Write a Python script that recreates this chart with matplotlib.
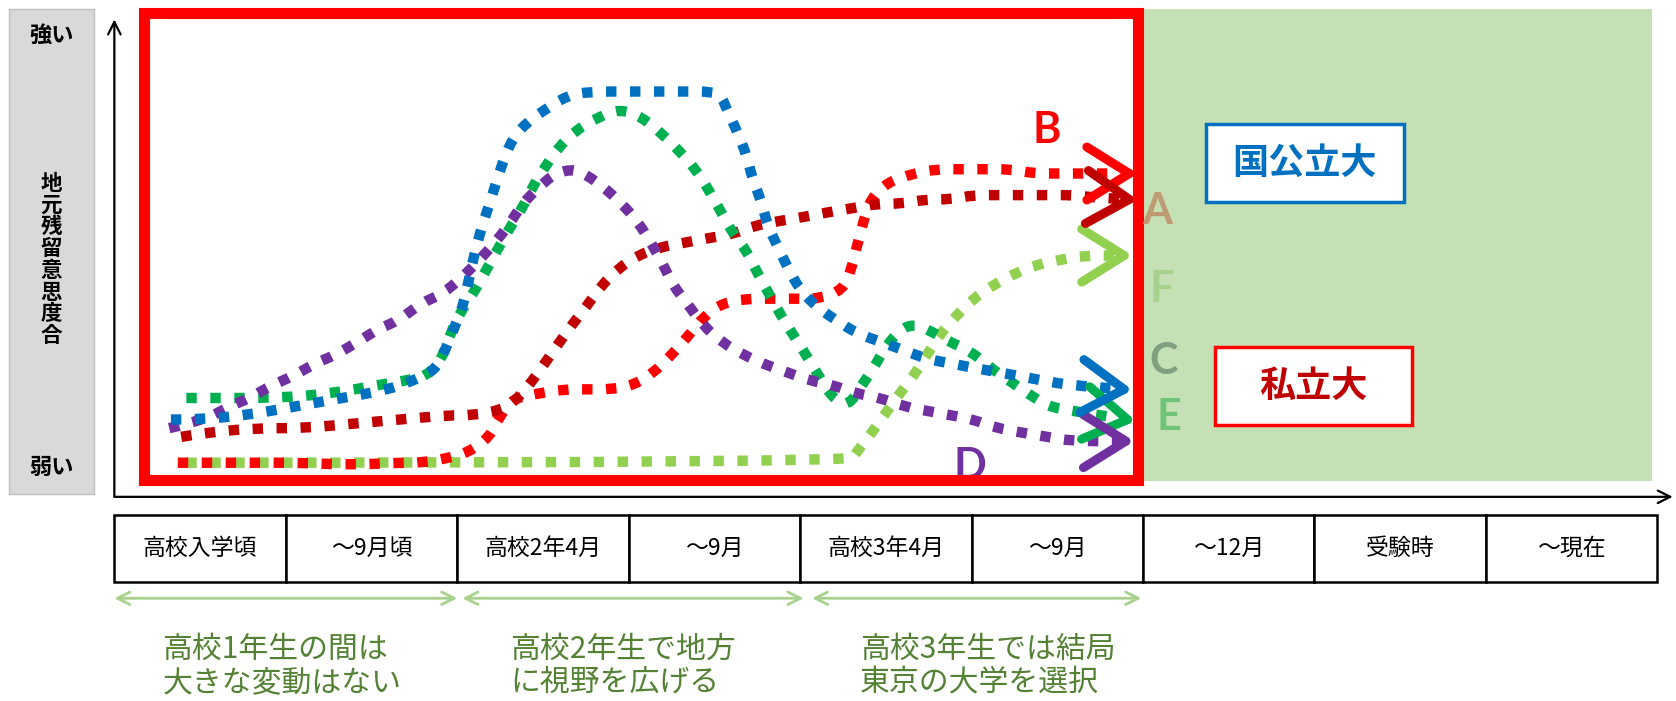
import matplotlib
matplotlib.use('Agg')
import matplotlib.pyplot as plt
from matplotlib.patches import Rectangle, PathPatch
from matplotlib.path import Path
import numpy as np

plt.rcParams['font.family'] = ['Noto Sans CJK JP', 'DejaVu Sans']

# x: time period (one unit per table column), y: strength of wish to stay local (0=弱い, 100=強い)
periods = ['高校入学頃', '～9月頃', '高校2年4月', '～9月', '高校3年4月', '～9月', '～12月', '受験時', '～現在']

phase_spans = [(0.0, 2.0), (2.03, 4.02), (4.07, 5.99)]
phase_notes = ['高校1年生の間は\n大きな変動はない',
               '高校2年生で地方\nに視野を広げる',
               '高校3年生では結局\n東京の大学を選択']

y_title = '地元残留意思度合'

# student A (dark red)
a_x = [0.39, 0.54, 0.82, 1.10, 1.38, 1.66, 1.95, 2.09, 2.24, 2.33, 2.42, 2.51, 2.58, 2.67,
       2.75, 2.84, 2.94, 3.05, 3.19, 3.33, 3.46, 3.61, 3.74, 3.88, 4.03, 4.16, 4.31, 4.45,
       4.59, 4.73, 4.88, 5.01, 5.16, 5.31, 5.44, 5.59, 5.70, 5.92]
a_y = [7, 8, 9, 9, 10, 11, 12, 12, 13, 15, 19, 24, 28, 33,
       37, 42, 46, 49, 51, 52, 53, 54, 56, 57, 58, 59, 60, 61,
       61, 62, 62, 63, 63, 63, 63, 63, 62.5, 62]

# student B (red)
b_x = [0.37, 0.52, 0.80, 1.09, 1.37, 1.66, 1.79, 1.94, 2.07, 2.19, 2.25, 2.33, 2.47, 2.62,
       2.76, 2.90, 3.03, 3.15, 3.25, 3.34, 3.44, 3.55, 3.69, 3.83, 3.98, 4.11, 4.25, 4.30,
       4.33, 4.37, 4.41, 4.51, 4.66, 4.80, 4.95, 5.08, 5.22, 5.37, 5.50, 5.65, 5.92]
b_y = [1, 1, 1, 1, 0.5, 1, 1, 2, 3.5, 7, 12, 16, 17, 18,
       18, 18, 19, 22, 26, 30, 35, 38, 39, 39, 39, 39, 41, 46,
       51, 57, 62, 66, 68, 69, 69, 69, 69, 68, 68, 68, 68]

# student C (blue)
c_x = [0.33, 0.49, 0.77, 1.05, 1.33, 1.61, 1.80, 1.88, 1.94, 1.99, 2.04, 2.08, 2.13, 2.18,
       2.22, 2.26, 2.32, 2.41, 2.52, 2.64, 2.77, 3.07, 3.32, 3.48, 3.54, 3.57, 3.63, 3.69,
       3.72, 3.77, 3.81, 3.87, 3.93, 4.00, 4.10, 4.21, 4.33, 4.47, 4.61, 4.74, 4.88, 5.01,
       5.15, 5.29, 5.42, 5.57, 5.89]
c_y = [11, 11, 12, 14, 16, 18, 21, 23, 28, 33, 38, 46, 54, 60,
       65, 70, 76, 80, 83, 86, 87, 87, 87, 87, 86, 83, 78, 72,
       67, 62, 56, 51, 46, 41, 37, 34, 31, 29, 27, 25, 24, 23,
       22, 21, 20, 19, 18]

# student D (purple)
d_x = [0.32, 0.53, 0.67, 0.79, 0.92, 1.04, 1.17, 1.29, 1.42, 1.54, 1.66, 1.79, 1.91, 2.03,
       2.13, 2.22, 2.30, 2.38, 2.48, 2.57, 2.67, 2.74, 2.85, 2.96, 3.05, 3.13, 3.20, 3.26,
       3.34, 3.43, 3.54, 3.67, 3.78, 3.92, 4.06, 4.19, 4.33, 4.47, 4.61, 4.74, 4.88, 5.01,
       5.15, 5.29, 5.44, 5.59, 5.90]
d_y = [9, 11, 14, 16, 19, 21, 24, 26, 29, 32, 34, 38, 40, 44,
       48, 52, 56, 61, 65, 68, 69, 68, 65, 61, 57, 52, 47, 42,
       38, 33, 29, 26, 24, 22, 20, 19, 17, 16, 14, 13, 12, 11,
       9, 8, 7, 6, 6]

# student E (green)
e_x = [0.42, 0.56, 0.95, 1.26, 1.54, 1.69, 1.82, 1.91, 1.96, 2.02, 2.09, 2.16, 2.23, 2.30,
       2.38, 2.44, 2.52, 2.59, 2.69, 2.82, 2.95, 3.08, 3.20, 3.30, 3.39, 3.47, 3.54, 3.61,
       3.69, 3.75, 3.82, 3.89, 3.97, 4.05, 4.11, 4.19, 4.28, 4.36, 4.43, 4.50, 4.59, 4.66,
       4.74, 4.87, 4.99, 5.11, 5.22, 5.33, 5.45, 5.59, 5.91]
e_y = [16, 16, 16, 17, 19, 20, 21, 25, 31, 36, 40, 45, 50, 55,
       60, 65, 70, 74, 78, 81, 83, 81, 77, 73, 69, 64, 59, 54,
       50, 45, 40, 35, 30, 25, 21, 16, 14, 19, 23, 28, 32, 33,
       32, 29, 27, 23, 20, 17, 14, 13, 11]

# student F (light green)
f_x = [0.42, 4.29, 4.33, 4.40, 4.49, 4.58, 4.66, 4.74, 4.82, 4.91, 5.01, 5.12, 5.26, 5.39,
       5.52, 5.65, 5.89]
f_y = [1, 1, 3.5, 7, 12, 17, 21, 26, 31, 35, 39, 42, 45, 47,
       48, 49, 49]

curves = [
    (f_x, f_y, '#92D050'),
    (b_x, b_y, '#FF0000'),
    (a_x, a_y, '#C00000'),
    (e_x, e_y, '#00B050'),
    (d_x, d_y, '#7030A0'),
    (c_x, c_y, '#0070C0'),
]

letters = ['A', 'B', 'C', 'D', 'E', 'F']
letter_x = [6.085, 5.44, 6.12, 4.99, 6.15, 6.11]
letter_y = [59.4, 78, 24.5, 0.3, 11.6, 41.3]
letter_colors = ['#BF9B73', '#FF0000', '#7F9F80', '#7030A0', '#70C478', '#A9D18E']

fig = plt.figure(figsize=(16.76, 7.01), dpi=100)
ax = fig.add_axes([0, 0, 1, 1])
ax.set_xlim(-0.667, 9.109)
ax.set_ylim(-54.2, 108.2)
ax.axis('off')

# left label panel
ax.add_patch(Rectangle((-0.617, -6.2), 0.499, 112.4, fc='#D9D9D9', ec='#BFBFBF', lw=1))
ax.text(-0.368, 100, '強い', ha='center', va='center', fontsize=16, fontweight='bold')
ax.text(-0.368, 0, '弱い', ha='center', va='center', fontsize=16, fontweight='bold')
# vertical title, one character per row
for k, ch in enumerate(y_title):
    ax.text(-0.368, 65.8 - 5.05 * k, ch, ha='center', va='center',
            fontsize=15.5, fontweight='bold')

# axes arrows
ax.annotate('', xy=(0, 103.7), xytext=(0, -6.9),
            arrowprops=dict(arrowstyle='->,head_length=0.9,head_width=0.45', lw=1.6,
                            color='black', shrinkA=0, shrinkB=0))
ax.annotate('', xy=(9.09, -6.9), xytext=(0, -6.9),
            arrowprops=dict(arrowstyle='->,head_length=0.9,head_width=0.45', lw=1.6,
                            color='black', shrinkA=0, shrinkB=0))

# university zone and high-school frame
ax.add_patch(Rectangle((6.0, -3.2), 2.97, 109.4, fc='#C5E0B4', ec='none', zorder=1))
ax.add_patch(Rectangle((0.175, -3.0), 5.795, 108.2, fill=False, ec='#FF0000', lw=8, zorder=6))

ax.add_patch(Rectangle((6.365, 61.4), 1.155, 18.1, fc='white', ec='#0070C0', lw=2.5, zorder=2))
ax.text(6.94, 70.3, '国公立大', ha='center', va='center', fontsize=26,
        fontweight='bold', color='#0070C0', zorder=3)
ax.add_patch(Rectangle((6.42, 9.7), 1.15, 18.0, fc='white', ec='#FF0000', lw=2.5, zorder=2))
ax.text(6.995, 18.6, '私立大', ha='center', va='center', fontsize=26,
        fontweight='bold', color='#C00000', zorder=3)


def smooth_path(xs, ys):
    # quadratic segments through midpoints, using the read points as control points
    pts = np.column_stack([xs, ys])
    verts = [pts[0]]
    codes = [Path.MOVETO]
    for i in range(1, len(pts) - 1):
        verts += [pts[i], (pts[i] + pts[i + 1]) / 2]
        codes += [Path.CURVE3, Path.CURVE3]
    verts.append(pts[-1])
    codes.append(Path.LINETO)
    return Path(verts, codes)


# trajectories
for i, (xs, ys, col) in enumerate(curves):
    ax.add_patch(PathPatch(smooth_path(xs, ys), fill=False, ec=col, lw=7.5,
                           linestyle=(0, (1, 1.3)), capstyle='butt', zorder=3 + i * 0.1))


# chevron heads at the end of each trajectory
def chevron(xs, ys, color, z):
    tip = ax.transData.transform((xs[-1], ys[-1]))
    prev = ax.transData.transform((xs[-2], ys[-2]))
    d = (prev - tip) / np.hypot(*(prev - tip))
    for ang in (np.radians(32), -np.radians(32)):
        rot = np.array([[np.cos(ang), -np.sin(ang)], [np.sin(ang), np.cos(ang)]])
        end = tip + 50 * rot @ d
        pts = ax.transData.inverted().transform([end, tip])
        ax.plot(pts[:, 0], pts[:, 1], color=color, lw=6.5, solid_capstyle='round', zorder=z)


for i, (xs, ys, col) in enumerate(curves):
    chevron(xs, ys, col, 4 + i * 0.1)

for lab, lx, ly, lc in zip(letters, letter_x, letter_y, letter_colors):
    ax.text(lx, ly, lab, ha='center', va='center', fontsize=31, fontweight='bold',
            color=lc, family=['Lato', 'DejaVu Sans'], zorder=5 if lab == 'D' else 7)

# period table
for i, p in enumerate(periods):
    ax.add_patch(Rectangle((i, -26.7), 1, 15.6, fc='white', ec='black', lw=1.8))
    ax.text(i + 0.5, -18.9, p, ha='center', va='center', fontsize=16.5)

# phase spans and notes
for (x0, x1), note in zip(phase_spans, phase_notes):
    ax.annotate('', xy=(x1, -30.4), xytext=(x0, -30.4),
                arrowprops=dict(arrowstyle='<->,head_length=0.9,head_width=0.45', lw=2,
                                color='#A9D18E', shrinkA=0, shrinkB=0))
    ax.text(x0 + 0.28, -38.6, note, ha='left', va='top', fontsize=21.5,
            color='#548235', linespacing=1.1)

fig.savefig('out.png', dpi=100, facecolor='white')
